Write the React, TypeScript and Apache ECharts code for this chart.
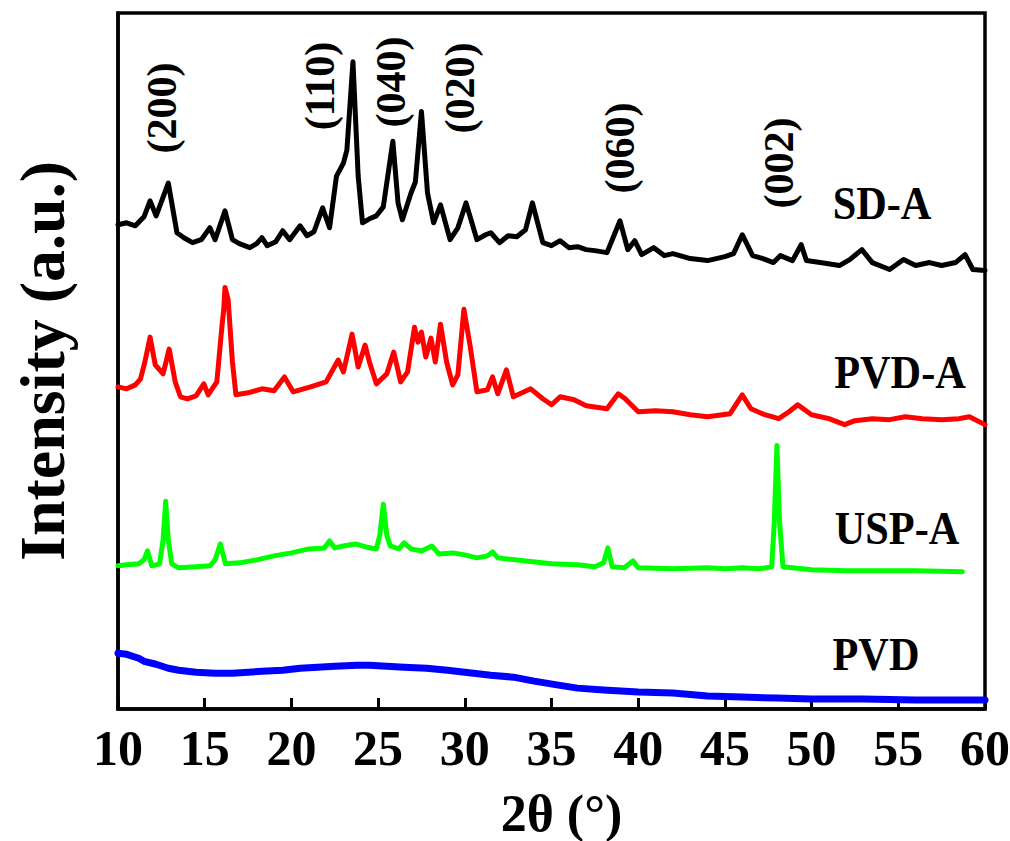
import React, { useEffect, useRef } from "react";
import * as echarts from "echarts";

// 2θ (°) and intensity (a.u.)
const sdA: [number, number][] = [
  [10.0, 487], [10.5, 489], [11.0, 486], [11.5, 495], [11.85, 511], [12.2, 496], [12.9, 529], [13.4, 479],
  [13.8, 474], [14.3, 469], [14.8, 472], [15.3, 484], [15.6, 472], [16.17, 501], [16.6, 472], [17.0, 468],
  [17.6, 464], [18.0, 468], [18.3, 474], [18.6, 466], [19.1, 470], [19.5, 481], [19.9, 472], [20.5, 486],
  [20.9, 476], [21.3, 480], [21.8, 504], [22.2, 484], [22.6, 536], [23.0, 549], [23.2, 562], [23.55, 651],
  [23.85, 536], [24.1, 489], [24.5, 493], [24.9, 496], [25.3, 505], [25.85, 571], [26.15, 509], [26.4, 492],
  [26.9, 519], [27.15, 530], [27.5, 601], [27.85, 519], [28.2, 489], [28.6, 507], [29.15, 472], [29.6, 484],
  [30.07, 509], [30.7, 472], [31.2, 477], [31.5, 479], [32.0, 469], [32.5, 476], [33.0, 475], [33.5, 482],
  [33.9, 509], [34.5, 469], [35.0, 466], [35.5, 471], [36.0, 464], [36.5, 465], [37.0, 462], [37.5, 461],
  [38.2, 459], [38.95, 491], [39.4, 462], [39.8, 471], [40.2, 457], [40.9, 464], [41.5, 456], [42.0, 458],
  [43.0, 453], [44.0, 451], [45.0, 455], [45.5, 458], [46.0, 477], [46.6, 456], [47.2, 453], [47.8, 449],
  [48.2, 456], [48.9, 451], [49.4, 467], [49.7, 451], [50.5, 449], [51.6, 446], [52.2, 452], [52.9, 462],
  [53.5, 449], [54.5, 442], [55.3, 452], [56.0, 446], [56.8, 449], [57.5, 446], [58.3, 449], [58.85, 457],
  [59.3, 442], [60.0, 441],
];

const pvdA: [number, number][] = [
  [10.0, 324], [10.5, 322], [11.0, 326], [11.3, 332], [11.55, 349], [11.85, 374], [12.15, 346], [12.6, 337],
  [12.95, 362], [13.3, 329], [13.6, 314], [14.0, 312], [14.5, 315], [14.95, 327], [15.2, 316], [15.7, 329],
  [16.0, 386], [16.1, 402], [16.17, 424], [16.35, 412], [16.6, 349], [16.8, 316], [17.5, 318], [18.3, 322],
  [19.0, 320], [19.6, 334], [20.1, 319], [21.1, 324], [22.0, 329], [22.7, 351], [23.0, 339], [23.5, 377],
  [23.85, 344], [24.25, 366], [24.5, 349], [24.9, 327], [25.5, 337], [25.9, 359], [26.3, 329], [26.7, 339],
  [27.1, 384], [27.3, 369], [27.5, 379], [27.75, 354], [28.05, 373], [28.3, 349], [28.6, 387], [28.95, 349],
  [29.3, 326], [29.6, 336], [29.95, 402], [30.3, 366], [30.7, 319], [31.3, 321], [31.6, 334], [31.9, 317],
  [32.4, 341], [32.8, 314], [33.3, 318], [33.8, 322], [34.5, 312], [35.0, 306], [35.5, 314], [36.3, 311],
  [37.0, 305], [38.2, 302], [38.85, 317], [39.25, 312], [40.0, 299], [41.0, 300], [42.0, 299], [43.0, 296],
  [44.0, 294], [45.3, 297], [46.0, 316], [46.5, 302], [47.3, 296], [48.1, 292], [48.7, 299], [49.2, 306],
  [50.0, 296], [51.0, 292], [51.9, 286], [52.5, 290], [53.5, 292], [54.5, 291], [55.4, 294], [56.4, 292],
  [57.5, 291], [58.5, 292], [59.1, 294], [60.0, 286],
];

const uspA: [number, number][] = [
  [10.0, 144], [10.5, 145], [11.2, 146], [11.5, 150], [11.7, 159], [11.95, 144], [12.4, 146], [12.6, 170],
  [12.75, 209], [12.9, 170], [13.1, 146], [13.5, 142], [14.5, 143], [15.3, 144], [15.6, 150], [15.9, 166],
  [16.2, 146], [17.0, 147], [18.0, 150], [19.0, 154], [20.0, 157], [21.0, 161], [21.9, 162], [22.2, 169],
  [22.5, 162], [23.0, 164], [23.7, 166], [24.3, 163], [24.9, 161], [25.1, 175], [25.3, 206], [25.5, 175],
  [25.7, 164], [26.2, 161], [26.5, 167], [26.9, 161], [27.5, 159], [28.1, 164], [28.5, 156], [29.3, 157],
  [30.0, 155], [30.7, 152], [31.3, 154], [31.6, 158], [31.9, 152], [33.4, 149], [35.0, 146], [36.5, 145],
  [37.5, 143], [38.0, 147], [38.25, 162], [38.5, 143], [39.2, 142], [39.7, 149], [40.0, 142], [42.0, 141],
  [44.0, 142], [45.0, 141], [46.0, 142], [47.0, 141], [47.7, 143], [47.85, 189], [48.0, 265], [48.15, 189],
  [48.35, 143], [50.0, 140], [52.0, 139], [54.0, 139], [56.0, 139], [58.7, 138],
];

const pvd: [number, number][] = [
  [10.0, 56], [10.5, 55], [11.2, 51], [11.5, 48], [12.2, 45], [12.9, 41], [13.5, 39], [14.5, 37],
  [15.6, 36], [16.6, 36], [17.5, 37], [18.3, 38], [19.5, 39], [20.5, 41], [21.5, 42], [22.5, 43],
  [23.8, 44], [24.5, 44], [25.5, 43], [26.5, 42], [27.8, 41], [29.0, 39], [30.5, 36], [31.5, 34],
  [32.8, 32], [34.0, 28], [35.4, 24], [36.5, 21], [38.0, 19], [40.0, 17], [42.0, 16], [44.0, 13],
  [46.0, 12], [48.0, 11], [50.0, 10], [53.0, 10], [56.0, 9], [60.0, 9],
];

const seriesNames = ["SD-A", "PVD-A", "USP-A", "PVD"];
const seriesColors = ["#000000", "#ff0000", "#00ff00", "#0000ff"];

const peakLabels = ["(200)", "(110)", "(040)", "(020)", "(060)", "(002)"];

const FONT = '"Liberation Serif", "Times New Roman", serif';

export default function App() {
  const ref = useRef<HTMLDivElement>(null);

  useEffect(() => {
    if (!ref.current) return;
    const chart = echarts.init(ref.current, undefined, { renderer: "svg" });
    const datasets = [sdA, pvdA, uspA, pvd];

    const nameLabelPos = [
      [882, 204],
      [900, 373],
      [897, 529],
      [876, 655],
    ];
    const peakPos = [
      [162, 108],
      [320, 86],
      [391, 82],
      [460, 88],
      [620, 148],
      [779, 163],
    ];

    const graphics: any[] = [];
    seriesNames.forEach((n, i) => {
      graphics.push({
        type: "text",
        x: nameLabelPos[i][0],
        y: nameLabelPos[i][1],
        scaleX: 0.92,
        style: {
          text: n,
          fontFamily: FONT,
          fontWeight: "bold",
          fontSize: 46,
          fill: "#000",
          align: "center",
          verticalAlign: "middle",
        },
      });
    });
    peakLabels.forEach((t, i) => {
      graphics.push({
        type: "text",
        x: peakPos[i][0],
        y: peakPos[i][1],
        rotation: Math.PI / 2,
        style: {
          text: t,
          fontFamily: FONT,
          fontWeight: "bold",
          fontSize: 42,
          fill: "#000",
          align: "center",
          verticalAlign: "middle",
        },
      });
    });

    chart.setOption({
      animation: false,
      backgroundColor: "#ffffff",
      grid: {
        left: 118,
        right: 25,
        top: 13,
        bottom: 132,
        containLabel: false,
        outerBoundsMode: "none",
        show: true,
        borderColor: "#000",
        borderWidth: 3.5,
        backgroundColor: "transparent",
      },
      xAxis: {
        type: "value",
        min: 10,
        max: 60,
        interval: 5,
        name: "2θ (°)",
        nameLocation: "middle",
        nameGap: 78,
        nameTextStyle: {
          fontFamily: FONT,
          fontWeight: "bold",
          fontSize: 52,
          color: "#000",
          padding: [0, 0, 0, 20],
        },
        axisLine: { show: true, lineStyle: { color: "#000", width: 3.5 } },
        axisTick: { show: true, inside: true, length: 11, lineStyle: { color: "#000", width: 3 } },
        axisLabel: {
          show: true,
          margin: 14,
          fontFamily: FONT,
          fontWeight: "bold",
          fontSize: 50,
          color: "#000",
          showMinLabel: true,
          showMaxLabel: true,
        },
        splitLine: { show: false },
      },
      yAxis: {
        type: "value",
        min: 0,
        max: 700,
        name: "Intensity (a.u.)",
        nameLocation: "middle",
        nameGap: 44,
        nameTextStyle: {
          fontFamily: FONT,
          fontWeight: "bold",
          fontSize: 64,
          lineHeight: 64,
          color: "#000",
        },
        axisLine: { show: true, lineStyle: { color: "#000", width: 3.5 } },
        axisTick: { show: false },
        axisLabel: { show: false },
        splitLine: { show: false },
      },
      series: datasets.map((d, i) => ({
        name: seriesNames[i],
        type: "line",
        data: d,
        showSymbol: false,
        symbol: "none",
        lineStyle: { color: seriesColors[i], width: i === 3 ? 7 : 5, join: "round", cap: "round" },
        itemStyle: { color: seriesColors[i] },
        z: 2,
      })),
      graphic: graphics,
    });

    return () => chart.dispose();
  }, []);

  return (
    <div
      ref={ref}
      style={{ position: "fixed", left: 0, top: 0, width: 1010, height: 841, background: "#fff" }}
    />
  );
}
